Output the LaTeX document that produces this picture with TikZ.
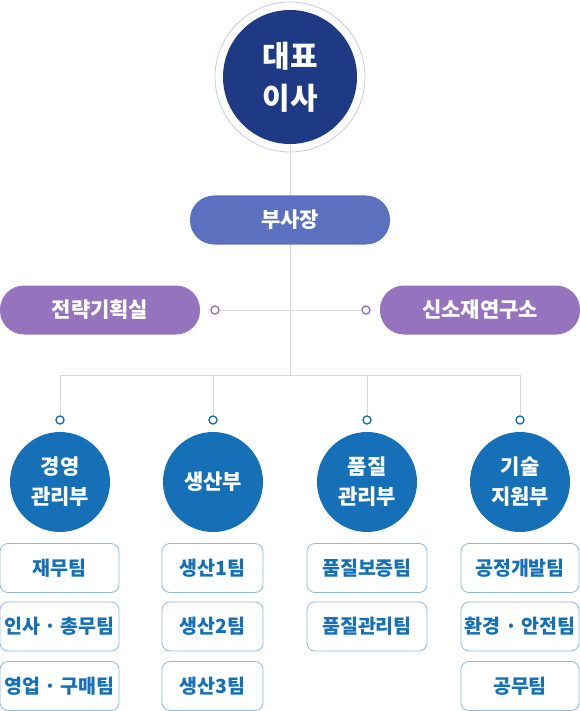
\documentclass[tikz,border=0pt]{standalone}
\usepackage{fontspec}
\setmainfont{Noto Sans CJK KR}
\usetikzlibrary{backgrounds}

\definecolor{ceoblue}{HTML}{1E3A85}
\definecolor{vpblue}{HTML}{5B70BE}
\definecolor{staffpurple}{HTML}{9673BF}
\definecolor{deptblue}{HTML}{1570B8}
\definecolor{teamline}{HTML}{8DB8E2}
\definecolor{linkgray}{HTML}{D9D9D9}
\definecolor{ringgray}{HTML}{C5CAE4}

\begin{document}
\begin{tikzpicture}[x=1pt,y=-1pt,
    ceo/.style={circle,fill=ceoblue,text=white,minimum size=134pt,inner sep=0pt,
      align=center,font=\fontsize{30}{42}\selectfont\bfseries},
    pill/.style={rounded corners=24pt,minimum width=200pt,minimum height=49pt,
      text=white,font=\fontsize{21}{24}\selectfont\bfseries},
    dept/.style={circle,fill=deptblue,text=white,minimum size=100pt,inner sep=0pt,
      align=center,font=\fontsize{21}{30}\selectfont\bfseries},
    team/.style={draw=teamline,line width=0.8pt,rounded corners=8pt,fill=white,
      minimum height=49pt,inner sep=1pt,text=deptblue,
      font=\fontsize{19.5}{22}\selectfont\bfseries},
    knob/.style={circle,draw=#1,fill=white,line width=1.4pt,minimum size=8pt,inner sep=0pt},
    link/.style={draw=linkgray,line width=0.8pt}]

  \useasboundingbox (0,0) rectangle (580,711);

  \node[ceo] (ceo) at (290,77) {대표\\이사};
  \draw[ringgray,line width=0.8pt] (ceo.center) circle (75pt);

  \node[pill,fill=vpblue] (vp) at (290,220) {부사장};
  \node[pill,fill=staffpurple] (plan) at (100,310) {전략기획실};
  \node[pill,fill=staffpurple] (lab) at (480,310) {신소재연구소};
  \node[knob=staffpurple] (kl) at (215,310) {};
  \node[knob=staffpurple] (kr) at (366,310) {};

  \coordinate (hub) at (290,375);
  \coordinate (t1) at (60,375);
  \coordinate (t2) at (213,375);
  \coordinate (t3) at (367,375);
  \coordinate (t4) at (520,375);

  \node[knob=deptblue] (k1) at (60,420) {};
  \node[knob=deptblue] (k2) at (213,420) {};
  \node[knob=deptblue] (k3) at (367,420) {};
  \node[knob=deptblue] (k4) at (520,420) {};

  \node[dept] (mgmt) at (60,482) {경영\\관리부};
  \node[dept] (prod) at (213,482) {생산부};
  \node[dept] (qual) at (367,482) {품질\\관리부};
  \node[dept] (tech) at (520,482) {기술\\지원부};

  \begin{scope}[on background layer]
    \draw[link] (ceo) -- (hub);
    \draw[link] (kl) -- (kr);
    \draw[link] (t1) -- (t4);
    \draw[link] (t1) -- (k1);
    \draw[link] (t2) -- (k2);
    \draw[link] (t3) -- (k3);
    \draw[link] (t4) -- (k4);
  \end{scope}

  % teams
  \node[team,minimum width=119pt] (fin) at (59.5,568) {재무팀};
  \node[team,minimum width=119pt] (hr) at (59.5,626.5) {인사 · 총무팀};
  \node[team,minimum width=119pt] (sales) at (59.5,686) {영업 · 구매팀};

  \node[team,minimum width=101pt] (p1) at (212.5,568) {생산1팀};
  \node[team,minimum width=101pt] (p2) at (212.5,626.5) {생산2팀};
  \node[team,minimum width=101pt] (p3) at (212.5,686) {생산3팀};

  \node[team,minimum width=120pt] (qa) at (367,568) {품질보증팀};
  \node[team,minimum width=120pt] (qc) at (367,626.5) {품질관리팀};

  \node[team,minimum width=118pt] (proc) at (520,568) {공정개발팀};
  \node[team,minimum width=118pt] (safe) at (520,626.5) {환경 · 안전팀};
  \node[team,minimum width=118pt] (works) at (520,686) {공무팀};

\end{tikzpicture}
\end{document}
